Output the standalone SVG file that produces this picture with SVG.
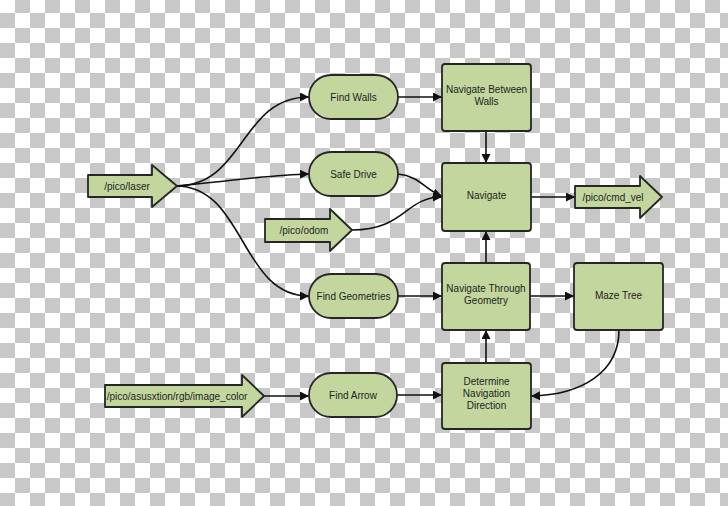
<svg xmlns="http://www.w3.org/2000/svg" width="728" height="506" viewBox="0 0 728 506">
<defs>
<pattern id="checker" x="0" y="-2" width="30" height="30" patternUnits="userSpaceOnUse">
<rect x="0" y="0" width="30" height="30" fill="#ffffff"/>
<rect x="15" y="0" width="15" height="15" fill="#c8c8c8"/>
<rect x="0" y="15" width="15" height="15" fill="#c8c8c8"/>
</pattern>
<marker id="arr" viewBox="0 0 10 10" refX="10" refY="5" markerWidth="9" markerHeight="9" markerUnits="userSpaceOnUse" orient="auto">
<path d="M0,0 L10,5 L0,10 Z" fill="#111"/>
</marker>
<style>
.n{fill:#c3d69e;stroke:#262626;stroke-width:1.8;stroke-linejoin:round}
.t{font-family:"Liberation Sans",Arial,sans-serif;font-size:10px;fill:#1e1e1e;text-anchor:middle}
.c{fill:none;stroke:#111;stroke-width:1.6;marker-end:url(#arr)}
</style>
</defs>
<rect width="728" height="506" fill="url(#checker)"/>
<g id="connectors">
<path class="c" d="M176,186 C245,186 240,97 309,97"/>
<path class="c" d="M176,186 C225,182 265,175 309,174"/>
<path class="c" d="M176,186 C245,186 240,296 309,296"/>
<path class="c" d="M398,97 L442,97"/>
<path class="c" d="M398,174 C420,176 425,190 442,196"/>
<path class="c" d="M352,230 C405,230 405,197 442,197"/>
<path class="c" d="M486,131 L486,163"/>
<path class="c" d="M531,197 L575,197"/>
<path class="c" d="M486,263 L486,231"/>
<path class="c" d="M398,296 L442,296"/>
<path class="c" d="M530,296 L574,296"/>
<path class="c" d="M486,363 L486,330"/>
<path class="c" d="M263,396 L309,396"/>
<path class="c" d="M397,395 L442,395"/>
<path class="c" d="M619,330 C619,372 582,395 531,396"/>
</g>
<g id="laser">
<path class="n" d="M88,175 L152,175 L152,165 L177,186 L152,207 L152,197 L88,197 Z"/>
<text class="t" x="127" y="190">/pico/laser</text>
</g>
<g id="odom">
<path class="n" d="M265,219 L330,219 L330,209 L352,230 L330,251 L330,242 L265,242 Z"/>
<text class="t" x="304" y="234">/pico/odom</text>
</g>
<g id="cmd_vel">
<path class="n" d="M575,186 L640,186 L640,176 L662,197 L640,218 L640,208 L575,208 Z"/>
<text class="t" x="613" y="201">/pico/cmd_vel</text>
</g>
<g id="image_color">
<path class="n" d="M105,385 L242,385 L242,375 L264,396 L242,417 L242,407 L105,407 Z"/>
<text class="t" x="177" y="400">/pico/asusxtion/rgb/image_color</text>
</g>
<g id="find_walls">
<rect class="n" x="309" y="75" width="89" height="44" rx="22"/>
<text class="t" x="353.5" y="101">Find Walls</text>
</g>
<g id="safe_drive">
<rect class="n" x="309" y="152" width="89" height="44" rx="22"/>
<text class="t" x="353.5" y="178">Safe Drive</text>
</g>
<g id="find_geometries">
<rect class="n" x="309" y="274" width="89" height="44" rx="22"/>
<text class="t" x="353.5" y="300">Find Geometries</text>
</g>
<g id="find_arrow">
<rect class="n" x="309" y="373" width="88" height="44" rx="22"/>
<text class="t" x="353" y="399">Find Arrow</text>
</g>
<g id="navigate_between_walls">
<rect class="n" x="442" y="64" width="89" height="67" rx="3"/>
<text class="t" x="486.5" y="93">Navigate Between</text>
<text class="t" x="486.5" y="105">Walls</text>
</g>
<g id="navigate">
<rect class="n" x="442" y="163" width="89" height="68" rx="3"/>
<text class="t" x="486.5" y="199">Navigate</text>
</g>
<g id="navigate_through_geometry">
<rect class="n" x="442" y="263" width="88" height="67" rx="3"/>
<text class="t" x="486" y="292">Navigate Through</text>
<text class="t" x="486" y="304">Geometry</text>
</g>
<g id="maze_tree">
<rect class="n" x="574" y="263" width="89" height="67" rx="3"/>
<text class="t" x="618.5" y="299">Maze Tree</text>
</g>
<g id="determine_navigation_direction">
<rect class="n" x="442" y="363" width="89" height="66" rx="3"/>
<text class="t" x="486.5" y="385">Determine</text>
<text class="t" x="486.5" y="397">Navigation</text>
<text class="t" x="486.5" y="409">Direction</text>
</g>
</svg>
